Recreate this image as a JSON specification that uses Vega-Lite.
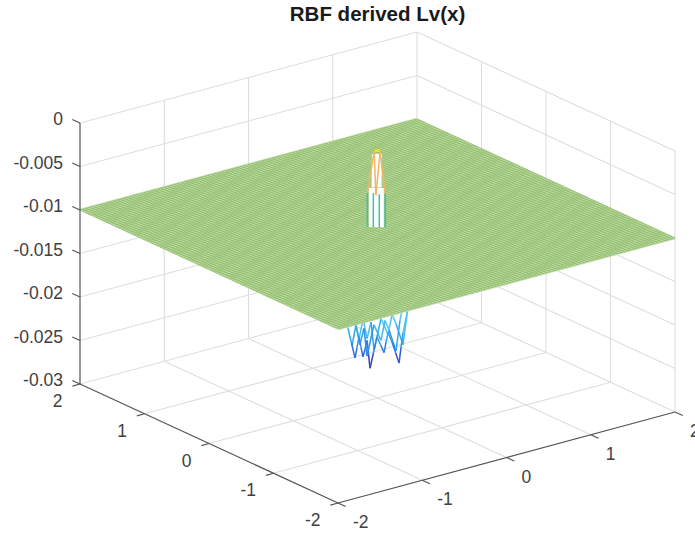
{"$schema":"https://vega.github.io/schema/vega-lite/v6.json","width":695,"height":505,"padding":{"left":0,"right":0,"top":30,"bottom":0},"autosize":{"type":"none"},"background":"white","config":{"view":{"stroke":null}},
"title":{"text":"RBF derived Lv(x)","font":"Liberation Sans","fontSize":20.5,"fontWeight":"bold","color":"#1a1a1a","anchor":"middle","dx":30,"offset":5},
"resolve":{"scale":{"color":"independent"}},
"data":{"values":[
{"k":"g","x":-1,"y":-2,"z":-0.03,"x2":-1,"y2":2,"z2":-0.03},{"k":"g","x":0,"y":-2,"z":-0.03,"x2":0,"y2":2,"z2":-0.03},{"k":"g","x":1,"y":-2,"z":-0.03,"x2":1,"y2":2,"z2":-0.03},{"k":"g","x":2,"y":-2,"z":-0.03,"x2":2,"y2":2,"z2":-0.03},
{"k":"g","x":-2,"y":-1,"z":-0.03,"x2":2,"y2":-1,"z2":-0.03},{"k":"g","x":-2,"y":0,"z":-0.03,"x2":2,"y2":0,"z2":-0.03},{"k":"g","x":-2,"y":1,"z":-0.03,"x2":2,"y2":1,"z2":-0.03},{"k":"g","x":-2,"y":2,"z":-0.03,"x2":2,"y2":2,"z2":-0.03},
{"k":"g","x":-1,"y":2,"z":-0.03,"x2":-1,"y2":2,"z2":0},{"k":"g","x":0,"y":2,"z":-0.03,"x2":0,"y2":2,"z2":0},{"k":"g","x":1,"y":2,"z":-0.03,"x2":1,"y2":2,"z2":0},{"k":"g","x":2,"y":2,"z":-0.03,"x2":2,"y2":2,"z2":0},
{"k":"g","x":2,"y":1,"z":-0.03,"x2":2,"y2":1,"z2":0},{"k":"g","x":2,"y":0,"z":-0.03,"x2":2,"y2":0,"z2":0},{"k":"g","x":2,"y":-1,"z":-0.03,"x2":2,"y2":-1,"z2":0},{"k":"g","x":2,"y":-2,"z":-0.03,"x2":2,"y2":-2,"z2":0},
{"k":"g","x":-2,"y":2,"z":0,"x2":2,"y2":2,"z2":0},{"k":"g","x":2,"y":2,"z":0,"x2":2,"y2":-2,"z2":0},
{"k":"g","x":-2,"y":2,"z":-0.005,"x2":2,"y2":2,"z2":-0.005},{"k":"g","x":2,"y":2,"z":-0.005,"x2":2,"y2":-2,"z2":-0.005},
{"k":"g","x":-2,"y":2,"z":-0.01,"x2":2,"y2":2,"z2":-0.01},{"k":"g","x":2,"y":2,"z":-0.01,"x2":2,"y2":-2,"z2":-0.01},
{"k":"g","x":-2,"y":2,"z":-0.015,"x2":2,"y2":2,"z2":-0.015},{"k":"g","x":2,"y":2,"z":-0.015,"x2":2,"y2":-2,"z2":-0.015},
{"k":"g","x":-2,"y":2,"z":-0.02,"x2":2,"y2":2,"z2":-0.02},{"k":"g","x":2,"y":2,"z":-0.02,"x2":2,"y2":-2,"z2":-0.02},
{"k":"g","x":-2,"y":2,"z":-0.025,"x2":2,"y2":2,"z2":-0.025},{"k":"g","x":2,"y":2,"z":-0.025,"x2":2,"y2":-2,"z2":-0.025},
{"k":"n","x":-0.386,"y":-0.109,"z":-0.0185,"x2":-0.333,"y2":-0.149,"z2":-0.0219},{"k":"n","x":-0.333,"y":-0.149,"z":-0.0219,"x2":-0.303,"y2":-0.172,"z2":-0.0195},{"k":"n","x":-0.303,"y":-0.172,"z":-0.0195,"x2":-0.273,"y2":-0.194,"z2":-0.0218},{"k":"n","x":-0.273,"y":-0.194,"z":-0.0218,"x2":-0.243,"y2":-0.217,"z2":-0.0199},{"k":"n","x":-0.243,"y":-0.217,"z":-0.0199,"x2":-0.221,"y2":-0.235,"z2":-0.0231},{"k":"n","x":-0.221,"y":-0.235,"z":-0.0231,"x2":-0.169,"y2":-0.275,"z2":-0.0195},{"k":"n","x":-0.169,"y":-0.275,"z":-0.0195,"x2":-0.116,"y2":-0.315,"z2":-0.0213},{"k":"n","x":-0.116,"y":-0.315,"z":-0.0213,"x2":-0.086,"y2":-0.338,"z2":-0.019},{"k":"n","x":-0.086,"y":-0.338,"z":-0.019,"x2":-0.056,"y2":-0.361,"z2":-0.0201},{"k":"n","x":-0.056,"y":-0.361,"z":-0.0201,"x2":-0.004,"y2":-0.401,"z2":-0.0225},{"k":"n","x":-0.004,"y":-0.401,"z":-0.0225,"x2":0.026,"y2":-0.424,"z2":-0.019},{"k":"n","x":0.026,"y":-0.424,"z":-0.019,"x2":0.056,"y2":-0.446,"z2":-0.0168},
{"k":"n","x":-0.386,"y":-0.109,"z":-0.0226,"x2":-0.356,"y2":-0.132,"z2":-0.0202},{"k":"n","x":-0.356,"y":-0.132,"z":-0.0202,"x2":-0.326,"y2":-0.154,"z2":-0.0225},{"k":"n","x":-0.326,"y":-0.154,"z":-0.0225,"x2":-0.296,"y2":-0.177,"z2":-0.0206},{"k":"n","x":-0.296,"y":-0.177,"z":-0.0206,"x2":-0.274,"y2":-0.195,"z2":-0.0238},{"k":"n","x":-0.274,"y":-0.195,"z":-0.0238,"x2":-0.222,"y2":-0.235,"z2":-0.0202},{"k":"n","x":-0.222,"y":-0.235,"z":-0.0202,"x2":-0.169,"y2":-0.275,"z2":-0.022},{"k":"n","x":-0.169,"y":-0.275,"z":-0.022,"x2":-0.139,"y2":-0.298,"z2":-0.0197},{"k":"n","x":-0.139,"y":-0.298,"z":-0.0197,"x2":-0.109,"y2":-0.321,"z2":-0.0208},{"k":"n","x":-0.109,"y":-0.321,"z":-0.0208,"x2":-0.057,"y2":-0.361,"z2":-0.0232},{"k":"n","x":-0.057,"y":-0.361,"z":-0.0232,"x2":-0.027,"y2":-0.384,"z2":-0.0197},{"k":"n","x":-0.027,"y":-0.384,"z":-0.0197,"x2":0.003,"y2":-0.406,"z2":-0.0175},
{"k":"n","x":-0.416,"y":-0.086,"z":-0.01,"x2":-0.416,"y2":-0.086,"z2":-0.0206},
{"k":"n","x":-0.416,"y":-0.086,"z":-0.0206,"x2":-0.39,"y2":-0.106,"z2":-0.0223},{"k":"n","x":-0.39,"y":-0.106,"z":-0.0223,"x2":-0.363,"y2":-0.126,"z2":-0.024},
{"k":"n","x":-0.363,"y":-0.126,"z":-0.024,"x2":-0.348,"y2":-0.138,"z2":-0.0228},{"k":"n","x":-0.348,"y":-0.138,"z":-0.0228,"x2":-0.333,"y2":-0.149,"z2":-0.0216},
{"k":"n","x":-0.333,"y":-0.149,"z":-0.0216,"x2":-0.318,"y2":-0.16,"z2":-0.0228},{"k":"n","x":-0.318,"y":-0.16,"z":-0.0228,"x2":-0.303,"y2":-0.171,"z2":-0.0239},
{"k":"n","x":-0.303,"y":-0.171,"z":-0.0239,"x2":-0.288,"y2":-0.183,"z2":-0.023},{"k":"n","x":-0.288,"y":-0.183,"z":-0.023,"x2":-0.273,"y2":-0.194,"z2":-0.022},
{"k":"n","x":-0.273,"y":-0.194,"z":-0.022,"x2":-0.262,"y2":-0.203,"z2":-0.0236},{"k":"n","x":-0.262,"y":-0.203,"z":-0.0236,"x2":-0.251,"y2":-0.212,"z2":-0.0252},
{"k":"n","x":-0.251,"y":-0.212,"z":-0.0252,"x2":-0.225,"y2":-0.232,"z2":-0.0234},{"k":"n","x":-0.225,"y":-0.232,"z":-0.0234,"x2":-0.199,"y2":-0.252,"z2":-0.0216},
{"k":"n","x":-0.199,"y":-0.252,"z":-0.0216,"x2":-0.172,"y2":-0.272,"z2":-0.0225},{"k":"n","x":-0.172,"y":-0.272,"z":-0.0225,"x2":-0.146,"y2":-0.292,"z2":-0.0234},
{"k":"n","x":-0.146,"y":-0.292,"z":-0.0234,"x2":-0.131,"y2":-0.304,"z2":-0.0222},{"k":"n","x":-0.131,"y":-0.304,"z":-0.0222,"x2":-0.116,"y2":-0.315,"z2":-0.0211},
{"k":"n","x":-0.116,"y":-0.315,"z":-0.0211,"x2":-0.086,"y2":-0.338,"z2":-0.0222},
{"k":"n","x":-0.086,"y":-0.338,"z":-0.0222,"x2":-0.06,"y2":-0.358,"z2":-0.0234},{"k":"n","x":-0.06,"y":-0.358,"z":-0.0234,"x2":-0.034,"y2":-0.378,"z2":-0.0246},
{"k":"n","x":-0.034,"y":-0.378,"z":-0.0246,"x2":-0.019,"y2":-0.39,"z2":-0.0228},{"k":"n","x":-0.019,"y":-0.39,"z":-0.0228,"x2":-0.004,"y2":-0.401,"z2":-0.0211},
{"k":"n","x":-0.004,"y":-0.401,"z":-0.0211,"x2":0.026,"y2":-0.423,"z2":-0.0189},{"k":"n","x":0.026,"y":-0.423,"z":-0.0189,"x2":0.026,"y2":-0.423,"z2":-0.01},
{"k":"r","x":0.42,"y":0,"z":-0.01,"x2":0.364,"y2":0.21,"z2":-0.01},{"k":"r","x":0.364,"y":0.21,"z":-0.01,"x2":0.21,"y2":0.364,"z2":-0.01},{"k":"r","x":0.21,"y":0.364,"z":-0.01,"x2":0,"y2":0.42,"z2":-0.01},{"k":"r","x":0,"y":0.42,"z":-0.01,"x2":-0.21,"y2":0.364,"z2":-0.01},{"k":"r","x":-0.21,"y":0.364,"z":-0.01,"x2":-0.364,"y2":0.21,"z2":-0.01},{"k":"r","x":-0.364,"y":0.21,"z":-0.01,"x2":-0.42,"y2":0,"z2":-0.01},{"k":"r","x":-0.42,"y":0,"z":-0.01,"x2":-0.364,"y2":-0.21,"z2":-0.01},{"k":"r","x":-0.364,"y":-0.21,"z":-0.01,"x2":-0.21,"y2":-0.364,"z2":-0.01},{"k":"r","x":-0.21,"y":-0.364,"z":-0.01,"x2":0,"y2":-0.42,"z2":-0.01},{"k":"r","x":0,"y":-0.42,"z":-0.01,"x2":0.21,"y2":-0.364,"z2":-0.01},{"k":"r","x":0.21,"y":-0.364,"z":-0.01,"x2":0.364,"y2":-0.21,"z2":-0.01},{"k":"r","x":0.364,"y":-0.21,"z":-0.01,"x2":0.42,"y2":0,"z2":-0.01},
{"k":"wb","x":-0.06,"y":-0.06,"z":-0.01,"x2":-0.06,"y2":-0.06,"z2":-0.0055},
{"k":"wt","x":-0.05,"y":-0.05,"z":-0.0055,"x2":-0.025,"y2":-0.025,"z2":-0.0018},
{"k":"p","x":-0.12,"y":0,"z":-0.01,"x2":-0.12,"y2":0,"z2":-0.0061},{"k":"p","x":-0.08,"y":-0.04,"z":-0.01,"x2":-0.08,"y2":-0.04,"z2":-0.0061},{"k":"p","x":-0.04,"y":-0.08,"z":-0.01,"x2":-0.04,"y2":-0.08,"z2":-0.0062},{"k":"p","x":0,"y":-0.12,"z":-0.01,"x2":0,"y2":-0.12,"z2":-0.0061},
{"k":"p","x":-0.12,"y":0,"z":-0.0061,"x2":-0.04,"y2":0,"z2":-0.0016},{"k":"p","x":-0.08,"y":-0.08,"z":-0.0062,"x2":-0.04,"y2":0,"z2":-0.0016},{"k":"p","x":-0.08,"y":-0.08,"z":-0.0062,"x2":0,"y2":-0.04,"z2":-0.0016},{"k":"p","x":0,"y":-0.12,"z":-0.0061,"x2":0,"y2":-0.04,"z2":-0.0016},
{"k":"p","x":-0.04,"y":0,"z":-0.0015,"x2":0,"y2":-0.04,"z2":-0.0015},{"k":"p","x":-0.04,"y":-0.01,"z":-0.0014,"x2":0,"y2":-0.03,"z2":-0.0014},
{"k":"a","x":-2,"y":2,"z":-0.03,"x2":-2,"y2":-2,"z2":-0.03},{"k":"a","x":-2,"y":-2,"z":-0.03,"x2":2,"y2":-2,"z2":-0.03},{"k":"a","x":-2,"y":2,"z":-0.03,"x2":-2,"y2":2,"z2":0},
{"k":"a","x":-2,"y":2,"z":0,"x2":-2,"y2":2.12,"z2":0},{"k":"a","x":-2,"y":2,"z":-0.005,"x2":-2,"y2":2.12,"z2":-0.005},{"k":"a","x":-2,"y":2,"z":-0.01,"x2":-2,"y2":2.12,"z2":-0.01},{"k":"a","x":-2,"y":2,"z":-0.015,"x2":-2,"y2":2.12,"z2":-0.015},{"k":"a","x":-2,"y":2,"z":-0.02,"x2":-2,"y2":2.12,"z2":-0.02},{"k":"a","x":-2,"y":2,"z":-0.025,"x2":-2,"y2":2.12,"z2":-0.025},{"k":"a","x":-2,"y":2,"z":-0.03,"x2":-2,"y2":2.12,"z2":-0.03},
{"k":"a","x":-2,"y":2,"z":-0.03,"x2":-2.09,"y2":2,"z2":-0.03},{"k":"a","x":-2,"y":1,"z":-0.03,"x2":-2.09,"y2":1,"z2":-0.03},{"k":"a","x":-2,"y":0,"z":-0.03,"x2":-2.09,"y2":0,"z2":-0.03},{"k":"a","x":-2,"y":-1,"z":-0.03,"x2":-2.09,"y2":-1,"z2":-0.03},{"k":"a","x":-2,"y":-2,"z":-0.03,"x2":-2.09,"y2":-2,"z2":-0.03},
{"k":"a","x":-2,"y":-2,"z":-0.03,"x2":-2,"y2":-2.12,"z2":-0.03},{"k":"a","x":-1,"y":-2,"z":-0.03,"x2":-1,"y2":-2.12,"z2":-0.03},{"k":"a","x":0,"y":-2,"z":-0.03,"x2":0,"y2":-2.12,"z2":-0.03},{"k":"a","x":1,"y":-2,"z":-0.03,"x2":1,"y2":-2.12,"z2":-0.03},{"k":"a","x":2,"y":-2,"z":-0.03,"x2":2,"y2":-2.12,"z2":-0.03},
{"k":"zl","x":-2,"y":2,"z":0,"t":"0"},{"k":"zl","x":-2,"y":2,"z":-0.005,"t":"-0.005"},{"k":"zl","x":-2,"y":2,"z":-0.01,"t":"-0.01"},{"k":"zl","x":-2,"y":2,"z":-0.015,"t":"-0.015"},{"k":"zl","x":-2,"y":2,"z":-0.02,"t":"-0.02"},{"k":"zl","x":-2,"y":2,"z":-0.025,"t":"-0.025"},{"k":"zl","x":-2,"y":2,"z":-0.03,"t":"-0.03"},
{"k":"yl","x":-2,"y":2,"z":-0.03,"t":"2"},{"k":"yl","x":-2,"y":1,"z":-0.03,"t":"1"},{"k":"yl","x":-2,"y":0,"z":-0.03,"t":"0"},{"k":"yl","x":-2,"y":-1,"z":-0.03,"t":"-1"},{"k":"yl","x":-2,"y":-2,"z":-0.03,"t":"-2"},
{"k":"xl","x":-2,"y":-2,"z":-0.03,"t":"-2"},{"k":"xl","x":-1,"y":-2,"z":-0.03,"t":"-1"},{"k":"xl","x":0,"y":-2,"z":-0.03,"t":"0"},{"k":"xl","x":1,"y":-2,"z":-0.03,"t":"1"},{"k":"xl","x":2,"y":-2,"z":-0.03,"t":"2"}
]},
"datasets":{"mesh":[{"c":-2},{"c":-1.96},{"c":-1.92},{"c":-1.88},{"c":-1.84},{"c":-1.8},{"c":-1.76},{"c":-1.72},{"c":-1.68},{"c":-1.64},{"c":-1.6},{"c":-1.56},{"c":-1.52},{"c":-1.48},{"c":-1.44},{"c":-1.4},{"c":-1.36},{"c":-1.32},{"c":-1.28},{"c":-1.24},{"c":-1.2},{"c":-1.16},{"c":-1.12},{"c":-1.08},{"c":-1.04},{"c":-1},{"c":-0.96},{"c":-0.92},{"c":-0.88},{"c":-0.84},{"c":-0.8},{"c":-0.76},{"c":-0.72},{"c":-0.68},{"c":-0.64},{"c":-0.6},{"c":-0.56},{"c":-0.52},{"c":-0.48},{"c":-0.44},{"c":-0.4},{"c":-0.36},{"c":-0.32},{"c":-0.28},{"c":-0.24},{"c":-0.2},{"c":-0.16},{"c":-0.12},{"c":-0.08},{"c":-0.04},{"c":0},{"c":0.04},{"c":0.08},{"c":0.12},{"c":0.16},{"c":0.2},{"c":0.24},{"c":0.28},{"c":0.32},{"c":0.36},{"c":0.4},{"c":0.44},{"c":0.48},{"c":0.52},{"c":0.56},{"c":0.6},{"c":0.64},{"c":0.68},{"c":0.72},{"c":0.76},{"c":0.8},{"c":0.84},{"c":0.88},{"c":0.92},{"c":0.96},{"c":1},{"c":1.04},{"c":1.08},{"c":1.12},{"c":1.16},{"c":1.2},{"c":1.24},{"c":1.28},{"c":1.32},{"c":1.36},{"c":1.4},{"c":1.44},{"c":1.48},{"c":1.52},{"c":1.56},{"c":1.6},{"c":1.64},{"c":1.68},{"c":1.72},{"c":1.76},{"c":1.8},{"c":1.84},{"c":1.88},{"c":1.92},{"c":1.96},{"c":2}]},
"transform":[
{"calculate":"338+84.25*(datum.x+2)-64.5*(datum.y+2)","as":"u"},
{"calculate":"503-22.75*(datum.x+2)-29.75*(datum.y+2)-8700*(datum.z+0.03)","as":"v"},
{"calculate":"338+84.25*(datum.x2+2)-64.5*(datum.y2+2)","as":"u2"},
{"calculate":"503-22.75*(datum.x2+2)-29.75*(datum.y2+2)-8700*(datum.z2+0.03)","as":"v2"},
{"calculate":"(datum.z+datum.z2)/2","as":"zm"}
],
"encoding":{
"x":{"field":"u","type":"quantitative","axis":null,"scale":{"domain":[0,695],"nice":false,"zero":false}},
"y":{"field":"v","type":"quantitative","axis":null,"scale":{"domain":[535,30],"nice":false,"zero":false}}
},
"layer":[
{"transform":[{"filter":"datum.k=='g'"}],"mark":{"type":"rule","color":"#dedede","strokeWidth":1.1},"encoding":{"x2":{"field":"u2"},"y2":{"field":"v2"}}},
{"transform":[{"filter":"datum.k=='n'"}],"mark":{"type":"rule","strokeWidth":1.5},"encoding":{"x2":{"field":"u2"},"y2":{"field":"v2"},"color":{"field":"zm","type":"quantitative","legend":null,"scale":{"domain":[-0.0245,-0.0232,-0.0222,-0.0205,-0.01],"range":["#3a3cc0","#2f6fe0","#2f90e8","#52c4ee","#52c4ee"]}}}},
{"data":{"name":"mesh"},"transform":[
{"calculate":"338-64.5*(datum.c+2)","as":"u"},{"calculate":"329-29.75*(datum.c+2)","as":"v"},
{"calculate":"675-64.5*(datum.c+2)","as":"u2"},{"calculate":"238-29.75*(datum.c+2)","as":"v2"}],
"mark":{"type":"rule","color":"#c8e0b4","strokeWidth":2.6},"encoding":{"x2":{"field":"u2"},"y2":{"field":"v2"}}},
{"data":{"name":"mesh"},"transform":[
{"calculate":"338-64.5*(datum.c+2)","as":"u"},{"calculate":"329-29.75*(datum.c+2)","as":"v"},
{"calculate":"675-64.5*(datum.c+2)","as":"u2"},{"calculate":"238-29.75*(datum.c+2)","as":"v2"}],
"mark":{"type":"rule","color":"#88b75f","strokeWidth":0.7},"encoding":{"x2":{"field":"u2"},"y2":{"field":"v2"}}},
{"data":{"name":"mesh"},"transform":[
{"calculate":"338+84.25*(datum.c+2)","as":"u"},{"calculate":"329-22.75*(datum.c+2)","as":"v"},
{"calculate":"80+84.25*(datum.c+2)","as":"u2"},{"calculate":"210-22.75*(datum.c+2)","as":"v2"}],
"mark":{"type":"rule","color":"#88b75f","strokeWidth":0.7},"encoding":{"x2":{"field":"u2"},"y2":{"field":"v2"}}},
{"transform":[{"filter":"datum.k=='r'"}],"mark":{"type":"rule","color":"#7fb65a","strokeWidth":1,"opacity":0.35,"strokeDash":[2,2]},"encoding":{"x2":{"field":"u2"},"y2":{"field":"v2"}}},
{"transform":[{"filter":"datum.k=='wb'"}],"mark":{"type":"rule","color":"#ffffff","strokeWidth":15},"encoding":{"x2":{"field":"u2"},"y2":{"field":"v2"}}},
{"transform":[{"filter":"datum.k=='wt'"}],"mark":{"type":"rule","color":"#ffffff","strokeWidth":10},"encoding":{"x2":{"field":"u2"},"y2":{"field":"v2"}}},
{"transform":[{"filter":"datum.k=='p'"}],"mark":{"type":"rule","strokeWidth":1.5},"encoding":{"x2":{"field":"u2"},"y2":{"field":"v2"},"color":{"field":"zm","type":"quantitative","legend":null,"scale":{"domain":[-0.0085,-0.0075,-0.0065,-0.0025,-0.0016],"range":["#40bfae","#40bfae","#f2b565","#f2b565","#f8e020"]}}}},
{"transform":[{"filter":"datum.k=='a'"}],"mark":{"type":"rule","color":"#555555","strokeWidth":1.2},"encoding":{"x2":{"field":"u2"},"y2":{"field":"v2"}}},
{"transform":[{"filter":"datum.k=='zl'"}],"mark":{"type":"text","align":"right","baseline":"middle","dx":-17,"dy":-3,"font":"Liberation Sans","fontSize":17.5,"color":"#404040"},"encoding":{"text":{"field":"t"}}},
{"transform":[{"filter":"datum.k=='yl'"}],"mark":{"type":"text","align":"right","baseline":"middle","dx":-17.5,"dy":18,"font":"Liberation Sans","fontSize":17.5,"color":"#404040"},"encoding":{"text":{"field":"t"}}},
{"transform":[{"filter":"datum.k=='xl'"}],"mark":{"type":"text","align":"left","baseline":"middle","dx":15,"dy":20,"font":"Liberation Sans","fontSize":17.5,"color":"#404040"},"encoding":{"text":{"field":"t"}}}
]}
